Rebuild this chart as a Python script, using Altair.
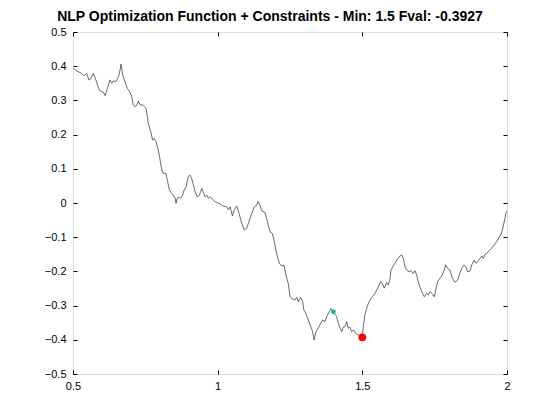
import altair as alt
import pandas as pd

xs = [0.500, 0.513, 0.530, 0.538, 0.547, 0.555, 0.561, 0.570, 0.579, 0.591,
      0.599, 0.605, 0.611, 0.619, 0.628, 0.634, 0.639, 0.648, 0.657, 0.662,
      0.666, 0.672, 0.680, 0.688, 0.697, 0.703, 0.708, 0.714, 0.720, 0.726,
      0.732, 0.741, 0.746, 0.752, 0.758, 0.760, 0.769, 0.775, 0.780, 0.787,
      0.795, 0.801, 0.807, 0.812, 0.821, 0.826, 0.833, 0.841, 0.847, 0.853,
      0.856, 0.860, 0.867, 0.872, 0.879, 0.884, 0.891, 0.898, 0.904, 0.910,
      0.916, 0.922, 0.930, 0.937, 0.945, 0.950, 0.956, 0.962, 0.968, 0.973,
      0.985, 0.991, 1.008, 1.019, 1.031, 1.037, 1.043, 1.051, 1.057, 1.066,
      1.074, 1.083, 1.092, 1.100, 1.108, 1.118, 1.127, 1.135, 1.140, 1.146,
      1.152, 1.164, 1.173, 1.181, 1.189, 1.196, 1.202, 1.213, 1.221, 1.229,
      1.236, 1.244, 1.250, 1.256, 1.267, 1.273, 1.279, 1.287, 1.294, 1.298,
      1.305, 1.313, 1.322, 1.328, 1.333, 1.340, 1.348, 1.356, 1.363, 1.371,
      1.377, 1.386, 1.392, 1.400, 1.411, 1.417, 1.423, 1.429, 1.434, 1.440,
      1.446, 1.451, 1.457, 1.463, 1.469, 1.477, 1.486, 1.495, 1.500, 1.503,
      1.509, 1.515, 1.521, 1.530, 1.538, 1.544, 1.550, 1.558, 1.563, 1.569,
      1.576, 1.584, 1.590, 1.596, 1.599, 1.607, 1.613, 1.619, 1.627, 1.636,
      1.642, 1.647, 1.653, 1.661, 1.668, 1.676, 1.682, 1.688, 1.693, 1.703,
      1.711, 1.714, 1.722, 1.728, 1.734, 1.740, 1.749, 1.754, 1.760, 1.768,
      1.776, 1.783, 1.788, 1.795, 1.803, 1.811, 1.820, 1.830, 1.838, 1.845,
      1.852, 1.857, 1.864, 1.872, 1.878, 1.887, 1.892, 1.899, 1.907, 1.913,
      1.918, 1.924, 1.930, 1.938, 1.947, 1.956, 1.964, 1.972, 1.979, 1.984,
      1.988, 1.993, 1.996, 2.000]
fx = [0.395, 0.386, 0.379, 0.372, 0.379, 0.360, 0.363, 0.379, 0.360, 0.330,
      0.325, 0.324, 0.314, 0.335, 0.360, 0.350, 0.357, 0.355, 0.369, 0.386,
      0.406, 0.374, 0.353, 0.335, 0.324, 0.311, 0.287, 0.282, 0.285, 0.298,
      0.287, 0.287, 0.282, 0.277, 0.248, 0.233, 0.208, 0.184, 0.189, 0.179,
      0.155, 0.126, 0.096, 0.087, 0.087, 0.067, 0.038, 0.028, 0.023, 0.014,
      -0.001, 0.014, 0.017, 0.014, 0.023, 0.038, 0.048, 0.077, 0.082, 0.072,
      0.053, 0.033, 0.017, 0.023, 0.043, 0.033, 0.018, 0.023, 0.014, 0.018,
      0.009, 0.004, -0.003, -0.009, -0.011, -0.020, -0.011, -0.038, -0.020, -0.009,
      -0.030, -0.059, -0.079, -0.074, -0.055, -0.030, -0.011, -0.006, 0.004, -0.006,
      -0.023, -0.028, -0.059, -0.084, -0.089, -0.113, -0.142, -0.176, -0.184, -0.181,
      -0.211, -0.235, -0.274, -0.279, -0.284, -0.276, -0.289, -0.276, -0.289, -0.313,
      -0.323, -0.342, -0.362, -0.376, -0.401, -0.376, -0.366, -0.352, -0.342, -0.347,
      -0.332, -0.318, -0.308, -0.318, -0.332, -0.352, -0.366, -0.376, -0.363, -0.362,
      -0.347, -0.366, -0.363, -0.376, -0.371, -0.381, -0.386, -0.389, -0.3927, -0.362,
      -0.327, -0.308, -0.293, -0.279, -0.272, -0.264, -0.254, -0.240, -0.230, -0.235,
      -0.249, -0.233, -0.240, -0.220, -0.196, -0.184, -0.176, -0.167, -0.157, -0.152,
      -0.162, -0.186, -0.196, -0.201, -0.198, -0.206, -0.198, -0.211, -0.230, -0.254,
      -0.269, -0.274, -0.264, -0.269, -0.259, -0.264, -0.274, -0.254, -0.230, -0.220,
      -0.211, -0.196, -0.181, -0.191, -0.196, -0.220, -0.232, -0.225, -0.203, -0.189,
      -0.181, -0.186, -0.201, -0.199, -0.181, -0.167, -0.176, -0.172, -0.162, -0.155,
      -0.162, -0.150, -0.147, -0.140, -0.132, -0.123, -0.113, -0.101, -0.092, -0.079,
      -0.064, -0.045, -0.030, -0.023]

start_x = [1.40]
start_f = [-0.318]
min_x = [1.5]
min_f = [-0.3927]

x_ticks = [0.5, 1.0, 1.5, 2.0]
y_ticks = [-0.5, -0.4, -0.3, -0.2, -0.1, 0.0, 0.1, 0.2, 0.3, 0.4, 0.5]

curve = pd.DataFrame({"x": xs, "f": fx})
start = pd.DataFrame({"x": start_x, "f": start_f})
best = pd.DataFrame({"x": min_x, "f": min_f})

FONT = "Liberation Sans"
TICK = 4

xdom = [0.5, 2.0]
ydom = [-0.5, 0.5]


def xaxis(orient, labels):
    return alt.Axis(orient=orient, values=x_ticks, labels=labels, title=None,
                    grid=False, domain=False, tickSize=TICK, offset=-TICK,
                    tickColor="black", labelColor="black", labelFont=FONT,
                    labelFontSize=11, labelPadding=TICK + 2, labelFlush=False,
                    labelOverlap=False,
                    labelExpr="format(datum.value, '~g')")


def yaxis(orient, labels):
    return alt.Axis(orient=orient, values=y_ticks, labels=labels, title=None,
                    grid=False, domain=False, tickSize=TICK, offset=-TICK,
                    tickColor="black", labelColor="black", labelFont=FONT,
                    labelFontSize=11, labelPadding=TICK + 3, labelFlush=False,
                    labelOverlap=False,
                    labelExpr="format(datum.value, '~g')")


line = alt.Chart(curve).mark_line(color="#2a2a2a", strokeWidth=0.7).encode(
    x=alt.X("x:Q", scale=alt.Scale(domain=xdom, nice=False, zero=False),
            axis=xaxis("bottom", True)),
    y=alt.Y("f:Q", scale=alt.Scale(domain=ydom, nice=False, zero=False),
            axis=yaxis("left", True)),
)

start_pt = alt.Chart(start).mark_circle(color="#1db36a", opacity=1, size=22).encode(
    x=alt.X("x:Q", scale=alt.Scale(domain=xdom, nice=False, zero=False),
            axis=xaxis("top", False)),
    y=alt.Y("f:Q", scale=alt.Scale(domain=ydom, nice=False, zero=False),
            axis=yaxis("right", False)),
)

best_pt = alt.Chart(best).mark_circle(color="#ff0000", opacity=1, size=60).encode(
    x=alt.X("x:Q", scale=alt.Scale(domain=xdom, nice=False, zero=False), axis=None),
    y=alt.Y("f:Q", scale=alt.Scale(domain=ydom, nice=False, zero=False), axis=None),
)

chart = alt.layer(line, start_pt, best_pt).resolve_scale(
    x="independent", y="independent"
).properties(
    width=434,
    height=342,
    title=alt.Title("NLP Optimization Function + Constraints - Min: 1.5 Fval: -0.3927",
                    font=FONT, fontSize=14, fontWeight="bold", color="black",
                    anchor="middle", dx=-20, offset=2),
    autosize=alt.AutoSizeParams(type="none"),
    padding={"left": 73, "top": 32, "right": 53, "bottom": 46},
).configure_view(
    stroke="black", strokeWidth=1
).configure(background="white")

chart.save("out.html", embed_options={"renderer": "svg", "actions": False})
